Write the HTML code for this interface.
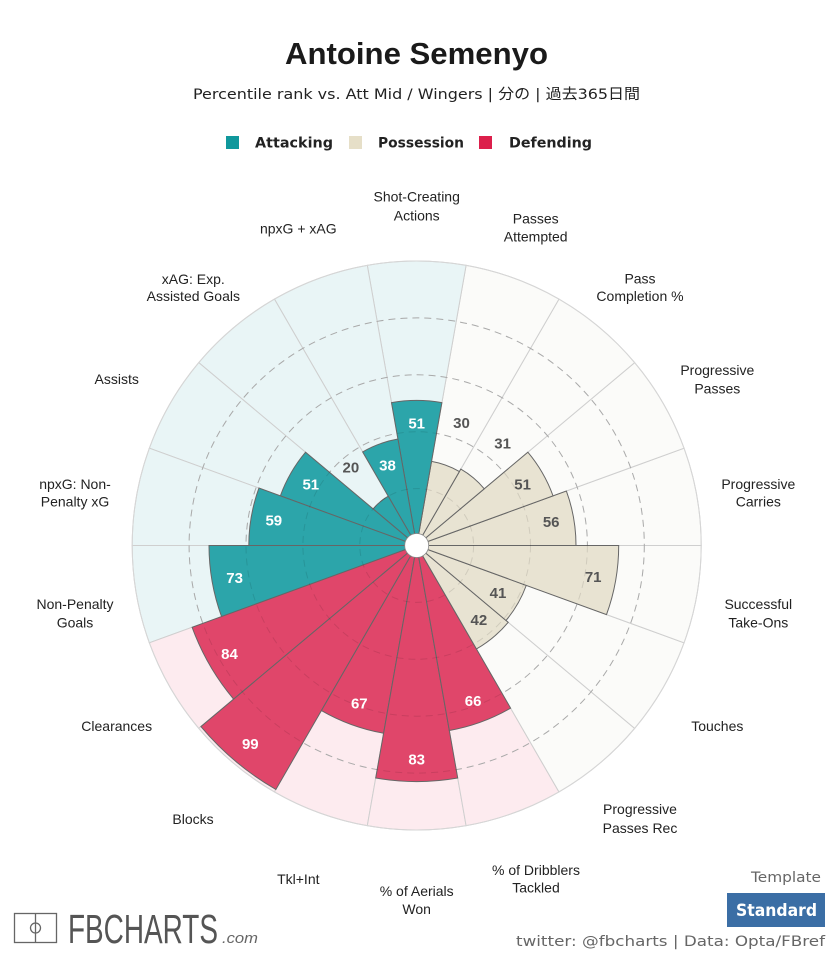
<!DOCTYPE html>
<html>
<head>
<meta charset="utf-8">
<style>
html,body{margin:0;padding:0;background:#fff;}
svg{display:block;}
.lab{font-family:"Liberation Sans",Arial,sans-serif;font-size:14px;fill:#222;text-anchor:middle;}
.val{font-family:"Liberation Sans",Arial,sans-serif;font-size:15px;font-weight:bold;text-anchor:middle;}
.w{fill:#fff;}
.d{fill:#555;}
.bg path{stroke:#cfcfcf;stroke-width:1;}
.bar path{stroke:#666;stroke-width:1;}
.pb{fill:#fbfbf9;} .ab{fill:#e9f5f6;} .db{fill:#fdebef;}
.pf{fill:#e8e3d2;} .af{fill:#2ca5aa;} .df{fill:#e0466a;}
</style>
</head>
<body>
<svg width="833" height="959" viewBox="0 0 833 959" xmlns="http://www.w3.org/2000/svg">
<rect width="833" height="959" fill="#fff"/>

<!-- Title -->
<text x="416.5" y="64" text-anchor="middle" font-family="Liberation Sans, Arial, sans-serif" font-weight="bold" font-size="30.5" fill="#1a1a1a" textLength="263" lengthAdjust="spacingAndGlyphs">Antoine Semenyo</text>
<text x="416.5" y="99" text-anchor="middle" font-family="DejaVu Sans, 'Noto Sans CJK JP', sans-serif" font-size="14.5" fill="#222" textLength="447" lengthAdjust="spacingAndGlyphs">Percentile rank vs. Att Mid / Wingers | 分の | 過去365日間</text>

<!-- Legend -->
<rect x="226" y="136" width="13" height="13" fill="#10989c"/>
<text x="255" y="147.5" font-family="DejaVu Sans, sans-serif" font-weight="bold" font-size="14" fill="#222" textLength="78" lengthAdjust="spacingAndGlyphs">Attacking</text>
<rect x="349" y="136" width="13" height="13" fill="#e6dfc8"/>
<text x="378" y="147.5" font-family="DejaVu Sans, sans-serif" font-weight="bold" font-size="14" fill="#222" textLength="86" lengthAdjust="spacingAndGlyphs">Possession</text>
<rect x="479" y="136" width="13" height="13" fill="#dc1f4b"/>
<text x="509" y="147.5" font-family="DejaVu Sans, sans-serif" font-weight="bold" font-size="14" fill="#222" textLength="83" lengthAdjust="spacingAndGlyphs">Defending</text>

<g transform="translate(416.7,545.5)">
  <!-- background wedges -->
  <g class="bg">
    <path class="pb" transform="rotate(0)"    d="M0,0 L284.5,0 A284.5 284.5 0 0 0 267.34,-97.30 Z"/>
    <path class="pb" transform="rotate(-20)"  d="M0,0 L284.5,0 A284.5 284.5 0 0 0 267.34,-97.30 Z"/>
    <path class="pb" transform="rotate(-40)"  d="M0,0 L284.5,0 A284.5 284.5 0 0 0 267.34,-97.30 Z"/>
    <path class="pb" transform="rotate(-60)"  d="M0,0 L284.5,0 A284.5 284.5 0 0 0 267.34,-97.30 Z"/>
    <path class="ab" transform="rotate(-80)"  d="M0,0 L284.5,0 A284.5 284.5 0 0 0 267.34,-97.30 Z"/>
    <path class="ab" transform="rotate(-100)" d="M0,0 L284.5,0 A284.5 284.5 0 0 0 267.34,-97.30 Z"/>
    <path class="ab" transform="rotate(-120)" d="M0,0 L284.5,0 A284.5 284.5 0 0 0 267.34,-97.30 Z"/>
    <path class="ab" transform="rotate(-140)" d="M0,0 L284.5,0 A284.5 284.5 0 0 0 267.34,-97.30 Z"/>
    <path class="ab" transform="rotate(-160)" d="M0,0 L284.5,0 A284.5 284.5 0 0 0 267.34,-97.30 Z"/>
    <path class="ab" transform="rotate(-180)" d="M0,0 L284.5,0 A284.5 284.5 0 0 0 267.34,-97.30 Z"/>
    <path class="db" transform="rotate(-200)" d="M0,0 L284.5,0 A284.5 284.5 0 0 0 267.34,-97.30 Z"/>
    <path class="db" transform="rotate(-220)" d="M0,0 L284.5,0 A284.5 284.5 0 0 0 267.34,-97.30 Z"/>
    <path class="db" transform="rotate(-240)" d="M0,0 L284.5,0 A284.5 284.5 0 0 0 267.34,-97.30 Z"/>
    <path class="db" transform="rotate(-260)" d="M0,0 L284.5,0 A284.5 284.5 0 0 0 267.34,-97.30 Z"/>
    <path class="db" transform="rotate(-280)" d="M0,0 L284.5,0 A284.5 284.5 0 0 0 267.34,-97.30 Z"/>
    <path class="pb" transform="rotate(-300)" d="M0,0 L284.5,0 A284.5 284.5 0 0 0 267.34,-97.30 Z"/>
    <path class="pb" transform="rotate(-320)" d="M0,0 L284.5,0 A284.5 284.5 0 0 0 267.34,-97.30 Z"/>
    <path class="pb" transform="rotate(-340)" d="M0,0 L284.5,0 A284.5 284.5 0 0 0 267.34,-97.30 Z"/>
  </g>
  <circle r="284.5" fill="none" stroke="#d6d6d6" stroke-width="1"/>

  <!-- grid in background -->
  <g fill="none" stroke="#bdbdbd" stroke-width="1" stroke-dasharray="7 5">
    <circle r="56.9"/><circle r="113.8"/><circle r="170.7"/><circle r="227.6"/>
  </g>

  <!-- bars -->
  <g class="bar">
    <path class="pf" transform="rotate(0)"    d="M0,0 L159.3,0 A159.3 159.3 0 0 0 149.69,-54.48 Z"/>
    <path class="pf" transform="rotate(-20)"  d="M0,0 L145.1,0 A145.1 145.1 0 0 0 136.35,-49.63 Z"/>
    <path class="pf" transform="rotate(-40)"  d="M0,0 L88.2,0 A88.2 88.2 0 0 0 82.88,-30.17 Z"/>
    <path class="pf" transform="rotate(-60)"  d="M0,0 L85.4,0 A85.4 85.4 0 0 0 80.25,-29.21 Z"/>
    <path class="af" transform="rotate(-80)"  d="M0,0 L145.1,0 A145.1 145.1 0 0 0 136.35,-49.63 Z"/>
    <path class="af" transform="rotate(-100)" d="M0,0 L108.1,0 A108.1 108.1 0 0 0 101.58,-36.97 Z"/>
    <path class="af" transform="rotate(-120)" d="M0,0 L56.9,0 A56.9 56.9 0 0 0 53.47,-19.46 Z"/>
    <path class="af" transform="rotate(-140)" d="M0,0 L145.1,0 A145.1 145.1 0 0 0 136.35,-49.63 Z"/>
    <path class="af" transform="rotate(-160)" d="M0,0 L167.9,0 A167.9 167.9 0 0 0 157.77,-57.43 Z"/>
    <path class="af" transform="rotate(-180)" d="M0,0 L207.7,0 A207.7 207.7 0 0 0 195.17,-71.04 Z"/>
    <path class="df" transform="rotate(-200)" d="M0,0 L239.0,0 A239.0 239.0 0 0 0 224.59,-81.74 Z"/>
    <path class="df" transform="rotate(-220)" d="M0,0 L281.7,0 A281.7 281.7 0 0 0 264.71,-96.35 Z"/>
    <path class="df" transform="rotate(-240)" d="M0,0 L190.6,0 A190.6 190.6 0 0 0 179.11,-65.19 Z"/>
    <path class="df" transform="rotate(-260)" d="M0,0 L236.1,0 A236.1 236.1 0 0 0 221.86,-80.75 Z"/>
    <path class="df" transform="rotate(-280)" d="M0,0 L187.8,0 A187.8 187.8 0 0 0 176.47,-64.23 Z"/>
    <path class="pf" transform="rotate(-300)" d="M0,0 L119.5,0 A119.5 119.5 0 0 0 112.29,-40.87 Z"/>
    <path class="pf" transform="rotate(-320)" d="M0,0 L116.6,0 A116.6 116.6 0 0 0 109.57,-39.88 Z"/>
    <path class="pf" transform="rotate(-340)" d="M0,0 L202.0,0 A202.0 202.0 0 0 0 189.82,-69.09 Z"/>
  </g>

  <!-- grid over bars (subtle) -->
  <g fill="none" stroke="#000" stroke-opacity="0.1" stroke-width="1" stroke-dasharray="7 5">
    <circle r="56.9"/><circle r="113.8"/><circle r="170.7"/><circle r="227.6"/>
  </g>

  <circle r="12" fill="#fff" stroke="#888" stroke-width="0.8"/>
</g>

<!-- Value labels -->
<text class="val d" x="551.2" y="527.2">56</text>
<text class="val d" x="522.6" y="489.7">51</text>
<text class="val d" x="502.6" y="448.5">31</text>
<text class="val d" x="461.5" y="427.9">30</text>
<text class="val w" x="416.7" y="428.6">51</text>
<text class="val w" x="387.5" y="470.7">38</text>
<text class="val d" x="350.9" y="472.5">20</text>
<text class="val w" x="310.8" y="489.7">51</text>
<text class="val w" x="273.8" y="525.7">59</text>
<text class="val w" x="234.6" y="583.0">73</text>
<text class="val w" x="229.5" y="659.0">84</text>
<text class="val w" x="250.3" y="749.2">99</text>
<text class="val w" x="359.3" y="708.7">67</text>
<text class="val w" x="416.7" y="764.3">83</text>
<text class="val w" x="473.1" y="706.0">66</text>
<text class="val d" x="478.9" y="625.0">42</text>
<text class="val d" x="498.0" y="597.8">41</text>
<text class="val d" x="593.2" y="582.0">71</text>

<!-- Category labels -->
<text class="lab" x="416.7" y="201.7">Shot-Creating</text>
<text class="lab" x="416.7" y="220.7">Actions</text>
<text class="lab" x="535.7" y="223.3">Passes</text>
<text class="lab" x="535.7" y="241.7">Attempted</text>
<text class="lab" x="640" y="283.3">Pass</text>
<text class="lab" x="640" y="301">Completion %</text>
<text class="lab" x="717.3" y="375">Progressive</text>
<text class="lab" x="717.3" y="393.3">Passes</text>
<text class="lab" x="758.3" y="489">Progressive</text>
<text class="lab" x="758.3" y="506.7">Carries</text>
<text class="lab" x="758.3" y="609">Successful</text>
<text class="lab" x="758.3" y="627.5">Take-Ons</text>
<text class="lab" x="717.3" y="731">Touches</text>
<text class="lab" x="640" y="814">Progressive</text>
<text class="lab" x="640" y="833">Passes Rec</text>
<text class="lab" x="536" y="875">% of Dribblers</text>
<text class="lab" x="536" y="892.3">Tackled</text>
<text class="lab" x="416.7" y="896">% of Aerials</text>
<text class="lab" x="416.7" y="914">Won</text>
<text class="lab" x="298.3" y="884">Tkl+Int</text>
<text class="lab" x="193" y="824">Blocks</text>
<text class="lab" x="116.7" y="731">Clearances</text>
<text class="lab" x="75" y="609">Non-Penalty</text>
<text class="lab" x="75" y="627.5">Goals</text>
<text class="lab" x="75" y="489">npxG: Non-</text>
<text class="lab" x="75" y="506.7">Penalty xG</text>
<text class="lab" x="116.7" y="384">Assists</text>
<text class="lab" x="193.3" y="284">xAG: Exp.</text>
<text class="lab" x="193.3" y="301">Assisted Goals</text>
<text class="lab" x="298.3" y="233.3">npxG + xAG</text>

<!-- Logo -->
<rect x="14.5" y="913.5" width="42" height="29" fill="none" stroke="#666" stroke-width="1.3"/>
<line x1="35.5" y1="913.5" x2="35.5" y2="942.5" stroke="#666" stroke-width="1.3"/>
<circle cx="35.5" cy="928" r="5" fill="none" stroke="#666" stroke-width="1.3"/>
<text x="68" y="943" font-family="Liberation Sans Narrow, Liberation Sans, sans-serif" font-size="41" fill="#555" textLength="150" lengthAdjust="spacingAndGlyphs">FBCHARTS</text>
<text x="222" y="943" font-family="Liberation Sans, sans-serif" font-style="italic" font-size="15" fill="#666" textLength="36" lengthAdjust="spacingAndGlyphs">.com</text>

<!-- Template -->
<text x="821" y="882" text-anchor="end" font-family="DejaVu Sans, sans-serif" font-size="14.5" fill="#666" textLength="70" lengthAdjust="spacingAndGlyphs">Template</text>
<rect x="727" y="893" width="98" height="34" fill="#3b6ea5"/>
<text x="776.5" y="916" text-anchor="middle" font-family="DejaVu Sans, sans-serif" font-weight="bold" font-size="16.5" fill="#fff" textLength="81" lengthAdjust="spacingAndGlyphs">Standard</text>
<text x="825" y="946" text-anchor="end" font-family="DejaVu Sans, sans-serif" font-size="14" fill="#666" textLength="309" lengthAdjust="spacingAndGlyphs">twitter: @fbcharts | Data: Opta/FBref</text>
</svg>
</body>
</html>
